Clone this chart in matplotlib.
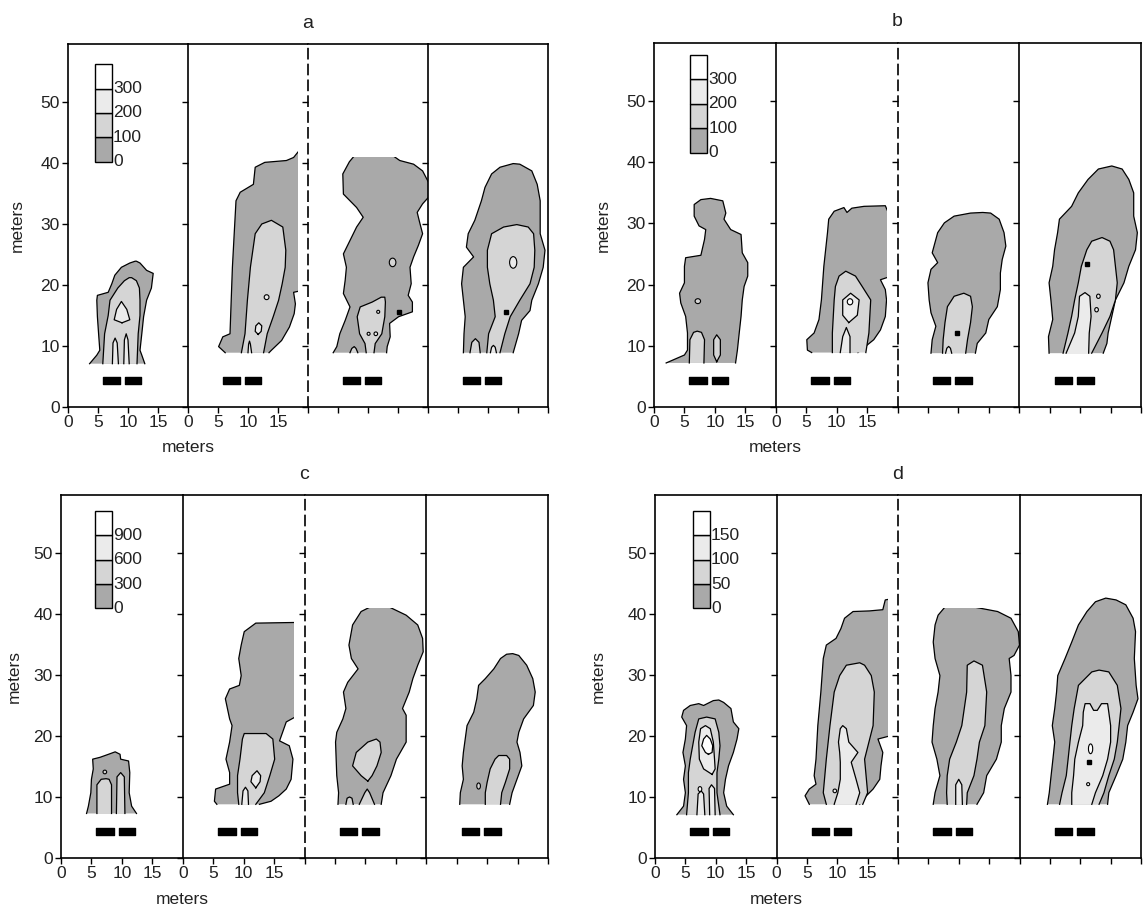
import numpy as np
import matplotlib
matplotlib.use("Agg")
import matplotlib.pyplot as plt
from matplotlib.patches import Rectangle, Ellipse

plt.rcParams["font.family"] = ["Liberation Sans", "DejaVu Sans"]

W, H = 1143, 914

# fill colour of each contour band (1 = lowest band, 4 = highest)
FILLS = {1: "#a9a9a9", 2: "#d5d5d5", 3: "#ebebeb", 4: "#ffffff"}

LEGEND_LABELS = {
    "a": ["0", "100", "200", "300"],
    "b": ["0", "100", "200", "300"],
    "c": ["0", "300", "600", "900"],
    "d": ["0", "50", "100", "150"],
}
# lower-left corner of the legend column (x, y) in the first sub panel
LEGEND_AT = {"a": (4.5, 40.2), "b": (5.9, 41.6), "c": (5.6, 40.9), "d": (6.2, 40.9)}

# the two black bars under every plume: (x start, width)
BARS = [(5.8, 2.9), (9.5, 2.7)]
BAR_Y = (3.8, 1.15)

CUT_X = 18.3   # right data edge of the 2nd sub panel
CUT_Y = 41.0   # top data edge of the 3rd sub panel

# ---- contour outlines: (band, left edge bottom->top, right edge bottom->top), points (x, y)
A1 = [
    (1, [(3.6, 7.1), (4.8, 8.5), (5.3, 9.3), (5.1, 12.0), (4.9, 14.8), (4.8, 17.5), (4.9, 18.3),
         (6.7, 18.8), (7.3, 20.2), (7.8, 21.6), (8.9, 22.9), (10.3, 23.6), (11.2, 23.9)],
        [(12.8, 7.1), (12.3, 8.5), (12.0, 9.3), (12.3, 12.0), (12.6, 14.8), (13.1, 17.5),
         (13.9, 19.5), (14.2, 21.9), (13.1, 22.4), (12.0, 23.6), (11.4, 23.9)]),
    (2, [(5.8, 7.1), (6.1, 12.0), (6.7, 15.0), (7.0, 17.5), (8.3, 19.5), (9.4, 20.7), (10.2, 21.2)],
        [(11.5, 7.1), (11.7, 12.0), (12.0, 15.0), (12.0, 17.5), (11.9, 19.5), (11.4, 20.7), (10.6, 21.2)]),
    (3, [(9.0, 13.8), (7.7, 14.3), (8.1, 16.0), (8.9, 17.3)],
        [(9.0, 13.8), (10.3, 14.3), (9.8, 16.0), (8.9, 17.3)]),
    (3, [(7.4, 7.1), (7.5, 10.5), (7.85, 11.3)], [(8.4, 7.1), (8.2, 10.5), (7.85, 11.3)]),
    (3, [(9.3, 7.1), (9.4, 11.0), (9.7, 12.0)], [(10.2, 7.1), (10.0, 11.0), (9.7, 12.0)]),
]
A2 = [
    (1, [(6.2, 8.9), (5.1, 9.9), (5.8, 11.5), (7.0, 12.0), (7.2, 17.5), (7.4, 22.9), (7.7, 28.4),
         (8.0, 33.8), (8.7, 35.2), (10.9, 36.5), (11.2, 39.3), (12.8, 40.1), (16.4, 40.4),
         (17.6, 40.9), (18.5, 42.0), (19.0, 42.5)],
        [(13.5, 8.9), (13.9, 9.3), (15.6, 10.9), (16.9, 13.1), (17.7, 15.3), (17.9, 16.9),
         (17.6, 18.8), (19.0, 19.1), (19.0, 42.5)]),
    (2, [(8.9, 8.9), (9.5, 12.0), (9.9, 17.5), (10.4, 22.9), (11.2, 28.4), (12.3, 30.0), (13.9, 30.6)],
        [(12.6, 8.9), (13.2, 12.0), (14.2, 14.8), (15.1, 17.5), (15.7, 20.2), (16.2, 22.9),
         (16.3, 25.7), (15.8, 29.5), (13.9, 30.6)]),
    (3, [(11.7, 11.9), (11.2, 12.4), (11.3, 13.3), (11.8, 13.8)],
        [(11.7, 11.9), (12.2, 12.4), (12.3, 13.3), (11.8, 13.8)]),
    (3, [(10.0, 8.9), (10.1, 10.3), (10.25, 10.8)], [(10.6, 8.9), (10.4, 10.3), (10.25, 10.8)]),
]
A3 = [
    (1, [(4.2, 8.9), (4.8, 9.9), (5.3, 12.0), (6.2, 14.2), (7.0, 16.4), (5.9, 18.6), (6.2, 20.8),
         (6.4, 22.9), (5.9, 25.1), (7.0, 27.3), (8.1, 29.5), (9.2, 31.1), (8.1, 32.7), (5.9, 34.9),
         (5.8, 38.2), (6.9, 40.2), (8.0, 41.5)],
        [(13.1, 8.9), (13.2, 9.9), (13.7, 11.5), (13.6, 13.7), (15.1, 14.8), (17.4, 15.6),
         (17.4, 17.2), (16.7, 18.3), (17.2, 20.2), (17.0, 22.9), (17.6, 24.6), (18.4, 26.5),
         (19.1, 28.4), (18.6, 30.3), (18.2, 31.9), (19.1, 33.3), (20.1, 34.4), (20.1, 36.8),
         (19.1, 38.7), (17.6, 39.8), (15.3, 40.4), (13.7, 41.5)]),
    (2, [(9.7, 8.9), (9.5, 10.4), (8.6, 12.0), (8.2, 14.8), (8.7, 16.4), (10.7, 17.2), (12.2, 18.0)],
        [(11.0, 8.9), (11.2, 10.4), (12.3, 12.0), (12.8, 14.8), (12.9, 17.2), (12.8, 18.0)]),
    (2, [(7.0, 8.9), (7.3, 9.6), (7.7, 9.9)], [(8.3, 8.9), (8.0, 9.6), (7.7, 9.9)]),
]
A4 = [
    (1, [(5.9, 8.9), (6.0, 12.0), (6.2, 14.8), (5.9, 17.5), (5.6, 20.2), (5.9, 22.9), (7.6, 24.6),
         (6.4, 26.2), (6.7, 28.4), (7.8, 30.6), (8.9, 33.8), (9.5, 36.0), (10.6, 38.2),
         (12.0, 39.3), (14.2, 39.9)],
        [(14.2, 8.9), (15.1, 12.0), (15.6, 14.2), (17.0, 15.8), (17.3, 17.5), (18.4, 20.2),
         (19.2, 22.9), (19.5, 25.7), (18.7, 28.4), (18.7, 31.1), (18.7, 33.8), (18.2, 36.5),
         (17.3, 38.7), (15.3, 39.8), (14.2, 39.9)]),
    (2, [(9.8, 8.9), (10.1, 12.0), (11.2, 14.8), (10.9, 17.5), (10.3, 20.2), (9.9, 22.9),
         (9.9, 25.7), (10.6, 28.4), (12.6, 29.5), (14.8, 29.9)],
        [(12.0, 8.9), (12.8, 12.0), (13.7, 14.8), (15.3, 17.5), (17.0, 20.2), (17.7, 22.9),
         (17.8, 25.7), (17.6, 28.4), (16.7, 29.5), (14.8, 29.9)]),
    (2, [(7.0, 8.9), (7.3, 10.6), (7.9, 11.2)], [(8.7, 8.9), (8.5, 10.6), (7.9, 11.2)]),
    (3, [(10.4, 8.9), (10.6, 9.8), (10.9, 10.1)], [(11.4, 8.9), (11.2, 9.8), (10.9, 10.1)]),
]

B1 = [
    (1, [(2.0, 7.2), (5.0, 8.5), (5.5, 9.3), (5.5, 12.1), (5.2, 14.8), (4.4, 17.0), (4.2, 18.6),
         (5.0, 20.3), (5.0, 23.0), (5.2, 24.4), (7.7, 24.8), (8.3, 27.4), (8.5, 29.0), (7.4, 29.6),
         (6.6, 31.2), (6.6, 33.1), (7.7, 33.9), (9.3, 34.1)],
        [(13.4, 7.2), (13.7, 9.3), (14.0, 12.1), (14.3, 14.8), (14.5, 17.5), (14.8, 19.7),
         (15.4, 21.4), (15.4, 23.6), (14.5, 25.2), (14.3, 28.2), (12.6, 29.0), (11.5, 30.7),
         (11.8, 31.7), (11.3, 33.7), (9.3, 34.1)]),
    (2, [(5.8, 7.2), (5.9, 11.0), (6.5, 12.2), (7.1, 12.4)],
        [(8.2, 7.2), (8.3, 11.0), (7.8, 12.2), (7.1, 12.4)]),
    (2, [(10.3, 7.4), (9.8, 8.5), (9.8, 11.0), (10.3, 11.8)],
        [(10.3, 7.4), (10.9, 8.5), (10.9, 11.0), (10.3, 11.8)]),
]
B2 = [
    (1, [(5.9, 8.9), (5.2, 9.3), (5.1, 11.0), (6.3, 12.1), (7.1, 14.3), (7.5, 17.5), (7.9, 23.0),
         (8.5, 28.5), (8.7, 30.7), (9.6, 32.0), (11.2, 32.6), (11.7, 31.8), (12.5, 32.5),
         (14.5, 32.8), (18.0, 32.9), (18.6, 31.5)],
        [(13.5, 8.9), (16.1, 11.0), (17.2, 12.6), (18.0, 14.8), (18.2, 17.5), (18.0, 19.2),
         (17.2, 20.8), (19.0, 21.4), (19.0, 31.5)]),
    (2, [(9.3, 8.9), (9.3, 12.1), (9.6, 17.5), (9.8, 19.7), (10.4, 21.4), (11.5, 22.2)],
        [(14.8, 8.9), (15.3, 12.1), (15.6, 17.5), (14.2, 19.7), (13.1, 21.4), (11.5, 22.2)]),
    (3, [(12.0, 13.8), (11.0, 15.0), (11.0, 17.5), (12.3, 18.6)],
        [(12.0, 13.8), (13.4, 15.0), (13.7, 17.5), (12.3, 18.6)]),
    (3, [(10.6, 8.9), (11.0, 11.5), (11.6, 13.0)], [(12.2, 8.9), (12.2, 11.5), (11.6, 13.0)]),
]
B3 = [
    (1, [(5.5, 8.8), (5.7, 11.0), (6.3, 13.2), (5.5, 15.4), (5.2, 17.5), (5.0, 20.3), (5.5, 22.5),
         (6.6, 23.6), (5.7, 25.2), (6.6, 28.5), (7.7, 30.1), (9.3, 31.2), (12.0, 31.7), (14.0, 31.8)],
        [(12.8, 8.8), (13.1, 10.4), (14.5, 12.1), (15.0, 14.3), (16.4, 16.4), (16.9, 19.2),
         (16.9, 21.9), (17.2, 24.1), (17.8, 26.3), (17.5, 28.5), (16.7, 30.7), (15.3, 31.7),
         (14.0, 31.8)]),
    (2, [(7.4, 8.8), (7.5, 11.0), (7.8, 13.8), (8.2, 16.4), (9.3, 18.1), (10.9, 18.6)],
        [(11.2, 8.8), (11.5, 11.0), (12.0, 13.8), (12.3, 16.4), (12.0, 18.1), (10.9, 18.6)]),
    (3, [(7.9, 8.8), (8.1, 9.6), (8.4, 9.9)], [(8.9, 8.8), (8.7, 9.6), (8.4, 9.9)]),
]
B4 = [
    (1, [(4.9, 8.8), (4.8, 11.5), (5.5, 14.3), (5.2, 17.5), (4.9, 20.3), (5.5, 23.0), (5.8, 25.7),
         (6.3, 28.5), (6.6, 30.7), (8.6, 32.8), (9.7, 35.0), (11.3, 37.2), (13.0, 38.9), (15.2, 39.4)],
        [(13.8, 8.8), (14.4, 10.4), (14.6, 12.1), (15.2, 14.8), (15.8, 17.5), (17.2, 20.3),
         (18.0, 23.0), (19.1, 25.7), (19.4, 28.5), (18.8, 31.2), (18.8, 35.0), (18.0, 37.2),
         (16.9, 38.9), (15.2, 39.4)]),
    (2, [(7.2, 8.8), (8.0, 12.1), (8.6, 14.8), (9.1, 17.5), (9.7, 20.3), (10.2, 23.0), (11.1, 25.7),
         (11.9, 27.1), (13.6, 27.7)],
        [(11.9, 8.8), (13.6, 12.1), (14.9, 14.8), (15.8, 17.5), (16.1, 20.3), (15.8, 23.0),
         (15.5, 25.7), (14.9, 27.1), (13.6, 27.7)]),
    (3, [(7.7, 8.8), (9.1, 12.1), (9.7, 14.8), (9.9, 18.1), (10.8, 18.7)],
        [(11.4, 8.8), (11.5, 12.1), (11.8, 14.8), (11.6, 18.1), (10.8, 18.7)]),
]

C1 = [
    (1, [(4.2, 7.3), (4.5, 8.5), (4.9, 10.7), (5.0, 12.9), (5.3, 14.6), (5.2, 16.2), (6.4, 16.5),
         (7.8, 17.0), (8.9, 17.4)],
        [(12.4, 7.3), (11.6, 8.5), (11.2, 10.7), (11.3, 14.0), (11.1, 15.9), (9.8, 16.2),
         (9.7, 17.0), (8.9, 17.4)]),
    (2, [(5.9, 7.3), (5.9, 12.0), (6.6, 12.9), (7.4, 13.0)],
        [(8.3, 7.3), (8.3, 12.0), (7.9, 12.9), (7.4, 13.0)]),
    (2, [(9.1, 7.3), (9.2, 13.3), (9.8, 14.0)], [(10.5, 7.3), (10.4, 13.3), (9.8, 14.0)]),
]
C2 = [
    (1, [(5.6, 8.8), (5.2, 9.3), (5.4, 11.3), (7.7, 12.1), (7.7, 14.0), (7.1, 16.2), (7.7, 19.0),
         (8.1, 21.7), (7.7, 22.8), (7.0, 26.1), (7.7, 27.7), (9.3, 28.3), (9.6, 29.9), (9.2, 32.7),
         (9.6, 34.9), (10.1, 37.1), (12.0, 38.5), (18.1, 38.6), (19.0, 38.6)],
        [(12.6, 8.8), (14.5, 9.3), (15.8, 10.2), (17.0, 11.3), (17.8, 12.9), (18.1, 16.2),
         (17.5, 18.4), (15.9, 19.2), (16.4, 20.6), (17.0, 22.3), (19.0, 23.4), (19.0, 38.6)]),
    (2, [(9.2, 8.8), (9.0, 10.7), (9.0, 13.5), (9.4, 16.2), (9.8, 19.5), (10.1, 20.4)],
        [(12.0, 8.8), (13.4, 10.7), (14.3, 13.5), (15.1, 16.2), (14.8, 19.5), (13.7, 20.4)]),
    (3, [(12.0, 11.5), (11.2, 12.5), (11.4, 13.5), (12.2, 14.3)],
        [(12.0, 11.5), (12.7, 12.5), (12.8, 13.5), (12.2, 14.3)]),
    (3, [(9.7, 8.8), (9.9, 11.0), (10.3, 11.6)], [(10.8, 8.8), (10.7, 11.0), (10.3, 11.6)]),
]
C3 = [
    (1, [(5.5, 8.8), (5.6, 10.7), (5.3, 13.5), (5.2, 16.2), (5.1, 19.0), (5.3, 20.6), (6.3, 22.8),
         (6.8, 24.5), (6.4, 27.2), (7.1, 28.8), (8.8, 31.0), (7.7, 32.7), (7.3, 34.9), (7.9, 38.2),
         (9.3, 40.4), (10.7, 41.1), (11.0, 42.0)],
        [(12.6, 8.8), (12.9, 10.7), (14.2, 13.5), (15.1, 16.2), (16.7, 19.0), (16.7, 21.7),
         (16.7, 23.4), (16.1, 24.5), (17.2, 27.2), (17.8, 29.4), (18.6, 31.6), (19.5, 33.8),
         (19.4, 36.0), (18.6, 38.2), (16.7, 39.8), (14.0, 41.1), (13.5, 42.0)]),
    (2, [(10.4, 12.6), (9.3, 13.5), (7.9, 15.1), (8.5, 17.3), (10.4, 19.0), (11.8, 19.5)],
        [(10.4, 12.6), (11.1, 13.5), (11.9, 15.1), (12.6, 17.3), (12.4, 19.0), (11.8, 19.5)]),
    (2, [(9.0, 8.8), (9.9, 10.7), (10.3, 11.3)], [(11.5, 8.8), (10.7, 10.7), (10.3, 11.3)]),
    (2, [(6.8, 8.8), (7.0, 9.8), (7.4, 10.0)], [(8.0, 8.8), (7.8, 9.8), (7.4, 10.0)]),
]
C4 = [
    (1, [(5.5, 8.8), (5.6, 10.7), (6.1, 12.9), (5.9, 15.1), (6.1, 17.3), (6.4, 19.5), (6.7, 21.7),
         (7.8, 23.9), (8.3, 26.1), (8.6, 28.3), (9.7, 29.4), (11.1, 31.0), (12.2, 32.7),
         (13.2, 33.4), (14.2, 33.5)],
        [(13.7, 8.8), (14.1, 10.7), (14.9, 12.9), (15.7, 15.1), (15.4, 17.3), (14.9, 19.0),
         (15.2, 20.6), (16.0, 22.8), (17.6, 25.0), (17.9, 27.2), (17.5, 29.4), (16.5, 31.6),
         (15.2, 33.2), (14.2, 33.5)]),
    (2, [(9.7, 8.8), (9.7, 10.7), (10.0, 12.4), (10.5, 14.6), (11.3, 16.2), (11.9, 16.8)],
        [(12.2, 8.8), (12.4, 10.7), (13.0, 12.4), (13.7, 14.6), (13.7, 16.2), (13.2, 16.8)]),
]

D1 = [
    (1, [(3.6, 7.1), (4.7, 8.5), (5.0, 10.7), (4.7, 12.9), (5.0, 15.1), (4.6, 17.3), (5.0, 19.5),
         (5.2, 21.7), (4.4, 23.1), (4.7, 24.2), (5.8, 25.0), (7.2, 25.3), (8.0, 25.0), (9.6, 25.8),
         (10.5, 25.9)],
        [(12.9, 7.1), (11.8, 8.5), (11.3, 10.7), (11.6, 12.9), (12.1, 15.1), (12.9, 17.3),
         (13.5, 19.5), (13.8, 21.2), (12.9, 22.3), (12.5, 24.5), (11.3, 25.5), (10.5, 25.9)]),
    (2, [(5.2, 7.1), (5.5, 10.7), (5.5, 14.0), (5.8, 16.2), (6.2, 18.4), (6.6, 20.6), (7.2, 22.8),
         (8.5, 23.1)],
        [(10.7, 7.1), (10.2, 10.7), (10.2, 14.0), (10.5, 16.2), (10.7, 18.4), (10.5, 20.6),
         (9.9, 22.8), (8.5, 23.1)]),
    (3, [(9.4, 13.7), (8.0, 14.6), (7.3, 16.2), (7.2, 19.0), (7.5, 21.2), (8.3, 21.7)],
        [(9.4, 13.7), (9.9, 14.6), (9.8, 16.2), (9.6, 19.0), (9.1, 21.2), (8.3, 21.7)]),
    (4, [(8.8, 17.0), (8.3, 17.3), (7.7, 18.4), (8.0, 19.5), (8.5, 20.1)],
        [(8.8, 17.0), (9.4, 17.3), (9.5, 18.4), (9.1, 19.5), (8.5, 20.1)]),
    (3, [(6.9, 7.1), (7.1, 10.5), (7.6, 11.0)], [(8.2, 7.1), (8.0, 10.5), (7.6, 11.0)]),
    (3, [(9.0, 7.1), (8.9, 11.4), (9.3, 12.0)], [(9.9, 7.1), (9.8, 11.4), (9.3, 12.0)]),
]
D2 = [
    (1, [(5.4, 8.8), (4.7, 10.2), (5.4, 11.3), (6.5, 12.1), (6.2, 13.5), (6.5, 16.2), (6.8, 21.7),
         (7.3, 27.2), (7.7, 32.7), (8.2, 34.9), (9.8, 36.0), (10.6, 37.6), (11.2, 39.3),
         (12.6, 40.4), (15.3, 40.5), (17.5, 40.7), (17.9, 42.3), (19.0, 42.5)],
        [(13.7, 8.8), (14.8, 10.2), (15.9, 11.3), (17.0, 12.9), (17.2, 15.1), (17.5, 17.3),
         (16.7, 19.5), (19.0, 20.1), (19.0, 42.5)]),
    (2, [(8.2, 8.8), (7.7, 10.7), (8.2, 16.2), (8.8, 21.7), (9.5, 27.2), (10.4, 29.9), (11.5, 31.6),
         (13.7, 32.0)],
        [(14.2, 8.8), (15.0, 10.7), (14.5, 16.2), (15.9, 21.7), (16.1, 27.2), (15.6, 29.9),
         (14.5, 31.6), (13.7, 32.0)]),
    (3, [(9.5, 8.8), (10.1, 10.7), (10.5, 12.9), (10.5, 15.7), (10.4, 17.3), (10.2, 19.0),
         (10.5, 21.2), (10.9, 21.7)],
        [(13.1, 8.8), (13.7, 10.7), (13.1, 12.9), (12.3, 15.7), (13.4, 17.3), (11.9, 19.0),
         (11.5, 21.2), (10.9, 21.7)]),
]
D3 = [
    (1, [(5.8, 8.8), (6.1, 10.7), (6.9, 13.5), (6.4, 16.2), (5.6, 19.0), (5.8, 21.7), (6.1, 24.5),
         (6.6, 27.2), (6.9, 29.9), (6.1, 32.7), (5.8, 35.4), (6.1, 38.2), (6.6, 39.8), (7.7, 41.1),
         (8.0, 42.0)],
        [(13.0, 8.8), (14.1, 10.7), (14.6, 13.5), (16.2, 16.2), (17.0, 19.0), (17.0, 21.7),
         (17.5, 24.5), (18.6, 27.2), (18.6, 29.9), (18.3, 32.7), (19.1, 33.2), (20.0, 34.9),
         (19.8, 37.1), (18.6, 39.3), (16.4, 40.4), (12.7, 41.1), (12.0, 42.0)]),
    (2, [(8.1, 8.8), (8.0, 10.7), (8.1, 13.5), (8.5, 16.2), (9.6, 19.0), (10.5, 21.7), (11.3, 27.2),
         (11.4, 31.6), (12.5, 32.3)],
        [(11.3, 8.8), (11.4, 10.7), (12.5, 13.5), (13.0, 16.2), (13.4, 19.0), (14.3, 21.7),
         (14.6, 27.2), (13.9, 31.6), (12.5, 32.3)]),
    (3, [(9.5, 8.8), (9.5, 12.0), (10.0, 12.9)], [(10.6, 8.8), (10.5, 12.0), (10.0, 12.9)]),
]
D4 = [
    (1, [(4.6, 8.8), (4.9, 10.7), (5.2, 13.5), (5.5, 16.2), (5.8, 19.0), (5.4, 21.7), (5.8, 24.5),
         (6.1, 27.2), (6.3, 29.9), (7.5, 32.7), (8.6, 35.4), (9.7, 38.2), (11.1, 40.4),
         (12.5, 42.0), (14.2, 42.6)],
        [(14.5, 8.8), (14.7, 10.7), (15.9, 13.5), (17.0, 16.2), (17.5, 19.0), (17.8, 21.7),
         (18.7, 23.9), (19.5, 26.1), (19.2, 28.3), (18.9, 32.7), (19.1, 37.1), (18.7, 39.3),
         (17.5, 41.5), (15.9, 42.3), (14.2, 42.6)]),
    (2, [(6.6, 8.8), (7.0, 10.7), (7.7, 13.5), (8.0, 16.2), (8.3, 19.0), (8.6, 21.7), (9.0, 24.5),
         (9.7, 28.3), (11.9, 30.5), (13.1, 30.8)],
        [(13.1, 8.8), (13.9, 10.7), (14.7, 13.5), (15.6, 16.2), (16.1, 19.0), (16.4, 21.7),
         (16.7, 24.5), (16.1, 28.3), (14.7, 30.5), (13.1, 30.8)]),
    (3, [(8.6, 8.8), (8.6, 10.7), (8.9, 13.5), (9.1, 16.2), (9.7, 19.0), (10.4, 21.7), (10.5, 23.9),
         (10.8, 25.3), (11.6, 25.3), (12.2, 24.2), (12.5, 24.2)],
        [(11.9, 8.8), (12.5, 10.7), (13.7, 13.5), (14.5, 16.2), (15.0, 19.0), (15.0, 21.7),
         (14.7, 23.9), (14.5, 25.3), (13.5, 25.3), (12.8, 24.2), (12.5, 24.2)]),
]

# small closed contours: (x, y, width, height, band)
DOTS_A = [[], [(13.1, 18.0, 0.8, 0.8, 3)],
          [(14.1, 23.7, 1.1, 1.4, 2), (11.7, 15.6, 0.5, 0.5, 3), (10.1, 12.0, 0.5, 0.5, 3),
           (11.3, 12.0, 0.6, 0.6, 3)],
          [(14.2, 23.7, 1.2, 1.9, 3)]]
DOTS_B = [[(7.2, 17.3, 0.9, 0.8, 2)], [(12.2, 17.2, 0.9, 1.0, 4)], [],
          [(13.0, 18.1, 0.6, 0.7, 3), (12.7, 15.9, 0.6, 0.7, 3)]]
DOTS_C = [[(7.2, 14.1, 0.6, 0.6, 2)], [], [], [(8.6, 11.8, 0.6, 1.0, 2)]]
DOTS_D = [[(7.4, 11.3, 0.6, 0.8, 4)], [(9.6, 11.0, 0.6, 0.6, 3)], [],
          [(11.7, 17.9, 0.7, 1.6, 4), (11.3, 12.1, 0.5, 0.5, 4)]]
# single-cell spikes shown as black specks: (x, y)
SPECKS_A = [[], [], [(15.1, 15.6)], [(13.0, 15.6)]]
SPECKS_B = [[], [], [(9.8, 12.1)], [(11.1, 23.3)]]
SPECKS_C = [[], [], [], []]
SPECKS_D = [[], [], [], [(11.5, 15.8)]]

PLUMES = {"a": [A1, A2, A3, A4], "b": [B1, B2, B3, B4],
          "c": [C1, C2, C3, C4], "d": [D1, D2, D3, D4]}
DOTS = {"a": DOTS_A, "b": DOTS_B, "c": DOTS_C, "d": DOTS_D}
SPECKS = {"a": SPECKS_A, "b": SPECKS_B, "c": SPECKS_C, "d": SPECKS_D}

# panel frames in pixels: left, top, right, bottom; y-label x; title y
FRAMES = {
    "a": (68, 44, 548, 407),
    "b": (654, 43, 1141, 407),
    "c": (61, 495, 548, 858),
    "d": (655, 495, 1141, 858),
}
YLABEL_X = {"a": 17, "b": 603, "c": 14, "d": 598}


def px_axes(fig, left, top, width, height):
    return fig.add_axes([left / W, 1 - (top + height) / H, width / W, height / H])


def style_axes(ax, i):
    ax.set_xlim(0, 20)
    ax.set_ylim(0, 59.5)
    for s in ax.spines.values():
        s.set_linewidth(1.2)
    ax.spines["right"].set_visible(i == 3)
    if i == 2:
        ax.spines["left"].set_linestyle((0, (6, 3.5)))
    ax.set_xticks([0, 5, 10, 15] + ([20] if i == 3 else []))
    ax.set_yticks(range(0, 51, 10))
    ax.tick_params(direction="out", length=4.5, width=1.0, labelsize=12.5, pad=1.5,
                   labelcolor="#222222", top=False, right=False,
                   labelbottom=(i < 2), labelleft=(i == 0))


def draw_outline(ax, band, left, right, clip):
    pts = np.vstack([np.asarray(left), np.asarray(right)[::-1]])
    patch = ax.fill(pts[:, 0], pts[:, 1], color=FILLS[band], lw=0, zorder=band)[0]
    line, = ax.plot(pts[:, 0], pts[:, 1], color="k", lw=0.9, zorder=band + 0.5)
    if clip is not None:
        patch.set_clip_path(clip)
        line.set_clip_path(clip)


fig = plt.figure(figsize=(W / 100, H / 100), dpi=100)

for p, (l, t, r, b) in FRAMES.items():
    sw = (r - l) / 4
    for i in range(4):
        ax = px_axes(fig, l + i * sw, t, sw, b - t)
        style_axes(ax, i)

        clip = None
        if i == 1:
            clip = Rectangle((0, 0), CUT_X, 60, transform=ax.transData)
        elif i == 2:
            clip = Rectangle((0, 0), 20.5, CUT_Y, transform=ax.transData)

        for band, left, right in PLUMES[p][i]:
            draw_outline(ax, band, left, right, clip)
        for x, y, w, h, band in DOTS[p][i]:
            ax.add_patch(Ellipse((x, y), w, h, facecolor=FILLS[band], edgecolor="k",
                                 lw=0.8, zorder=5))
        for x, y in SPECKS[p][i]:
            ax.plot(x, y, "s", ms=2.2, color="k", zorder=6)

        ax.broken_barh(BARS, BAR_Y, color="k", zorder=6)

        if i == 0:
            lx, ly = LEGEND_AT[p]
            for k, lab in enumerate(LEGEND_LABELS[p]):
                ax.add_patch(Rectangle((lx, ly + 4.0 * k), 2.8, 4.0, facecolor=FILLS[k + 1],
                                       edgecolor="k", lw=1.0, zorder=6))
                ax.text(lx + 3.0, ly + 4.0 * k, lab, fontsize=12.5, color="#222222",
                        ha="left", va="center", zorder=7)

    # axis labels and panel letter
    fig.text((l + sw) / W, 1 - (b + 41) / H, "meters", fontsize=12.5, color="#222222",
             ha="center", va="center")
    fig.text(YLABEL_X[p] / W, 1 - ((t + b) / 2) / H, "meters", fontsize=12.5,
             color="#222222", rotation=90, ha="center", va="center")
    fig.text((l + 2 * sw) / W, 1 - (t - 21) / H, p, fontsize=14, color="#222222",
             ha="center", va="center")

fig.savefig("out.png", dpi=100, facecolor="white")
